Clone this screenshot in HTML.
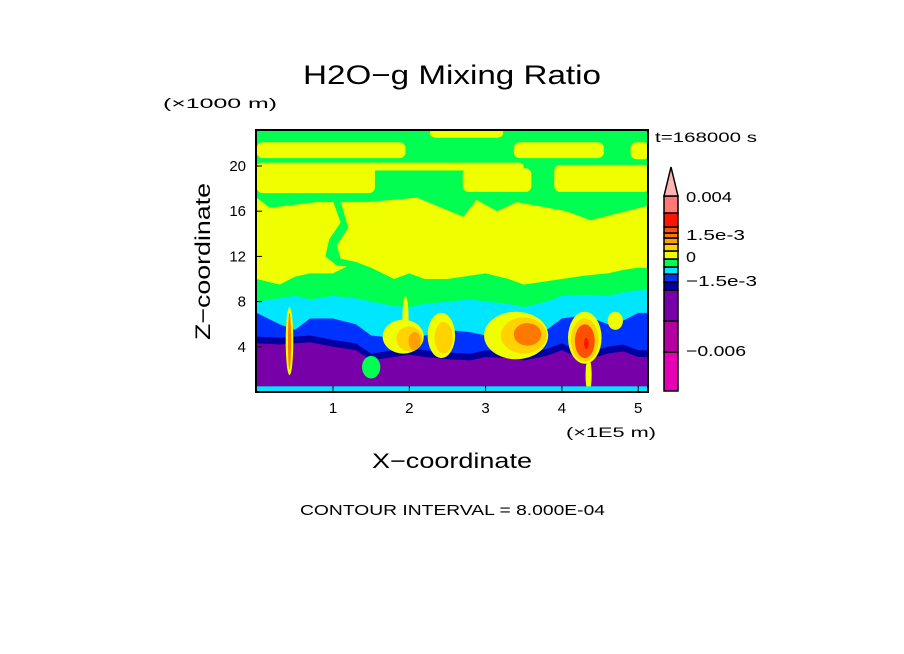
<!DOCTYPE html>
<html><head><meta charset="utf-8"><style>
html,body{margin:0;padding:0;background:#fff;}
svg{display:block;font-family:"Liberation Sans",sans-serif;}
</style></head><body>
<svg id="c" width="904" height="654" viewBox="0 0 904 654">
<defs><clipPath id="clip"><rect x="256" y="130" width="392" height="262"/></clipPath></defs>
<text x="303" y="84" font-size="27" textLength="298" lengthAdjust="spacingAndGlyphs">H2O−g Mixing Ratio</text>
<text x="163" y="108" font-size="14" textLength="114" lengthAdjust="spacingAndGlyphs">(×1000 m)</text>
<text x="655" y="142" font-size="14" textLength="102" lengthAdjust="spacingAndGlyphs">t=168000 s</text>
<g id="plot" clip-path="url(#clip)"></g>
<rect x="256" y="130" width="392" height="262" fill="none" stroke="#000" stroke-width="2"/>
<g id="axes"></g>
<g id="cbar"></g>
<text x="566" y="437" font-size="14" textLength="90" lengthAdjust="spacingAndGlyphs">(×1E5 m)</text>
<text x="372" y="468" font-size="21" textLength="160" lengthAdjust="spacingAndGlyphs">X−coordinate</text>
<text x="0" y="0" font-size="21" textLength="157" lengthAdjust="spacingAndGlyphs" transform="translate(210,340) rotate(-90)">Z−coordinate</text>
<text x="300" y="515" font-size="15" textLength="305" lengthAdjust="spacingAndGlyphs">CONTOUR INTERVAL = 8.000E-04</text>
</svg>
<script>
const NS="http://www.w3.org/2000/svg";
// axis data
const xTicks=[1,2,3,4,5];
const zTicks=[4,8,12,16,20];
// boundary profiles (x in 1e5 m, z in km)
const profX=[-0.1,0.0,0.3,0.5,0.7,1.0,1.3,1.5,1.8,2.0,2.2,2.5,2.8,3.0,3.3,3.5,3.8,4.0,4.3,4.6,4.8,5.0,5.2];
const purpleTop=[4.3,4.3,4.2,4.3,4.4,4.0,3.7,2.8,3.1,3.3,3.1,2.9,2.8,3.1,3.0,2.8,3.2,3.7,2.8,3.4,3.6,3.1,3.1];
const blueTop=[7.0,7.0,6.0,5.5,6.5,6.5,6.0,5.0,4.8,4.5,5.0,5.5,5.3,5.0,4.8,4.5,5.5,6.5,6.8,6.0,6.3,7.0,7.0];
const cyanTop=[8.0,8.0,8.3,8.5,8.2,8.5,8.3,8.0,7.6,7.5,7.8,8.0,8.2,8.0,7.8,7.5,8.0,8.5,8.6,8.5,8.8,9.0,9.0];
const greenTop=[10.0,10.0,9.5,10.2,10.5,10.5,11.5,11.0,10.0,10.5,10.0,10.0,10.3,10.5,10.0,9.5,9.8,10.0,10.3,10.5,10.8,11.0,11.0];
const yelTopX=[-0.1,0.0,0.17,0.79,1.44,2.1,2.71,2.88,3.15,3.41,4.06,4.37,5.2];
const yelTop=[17.2,17.2,16.3,16.8,16.8,17.2,15.5,17.0,16.0,16.8,16.0,15.2,16.6];
// green tongue polygon (x,z)
const tongueX=[0.75,1.0,1.1,0.95,0.9,1.05,1.35,1.3,1.1,1.05,1.2,1.1,0.95];
const tongueZ=[16.9,16.9,15.0,13.5,12.0,11.2,11.0,11.5,11.8,13.0,14.5,16.9,16.9];
// upper yellow bands [x0,x1,z0,z1]
const bandX0=[0.0,2.7,3.9,0.0,3.37,4.9,2.27,0.0];
const bandX1=[1.55,3.6,5.15,1.95,4.55,5.15,3.23,3.5];
const bandZ0=[17.6,17.7,17.7,20.7,20.7,20.6,22.5,19.6];
const bandZ1=[20.2,19.8,20.1,22.1,22.1,22.1,23.3,20.3];
// blobs [x,z,rx,rz,level]
const blobX=[1.92,2.42,3.4,4.3,4.7,0.43,1.5,1.95,4.35,2.0,2.45,3.5,4.3,2.07,3.55,4.3,0.43,4.32];
const blobZ=[4.9,5.0,5.0,4.8,6.3,4.5,2.2,6.5,1.5,4.7,4.8,5.0,4.6,4.5,5.1,4.5,4.5,4.3];
const blobRX=[0.27,0.18,0.42,0.22,0.1,0.05,0.12,0.04,0.04,0.17,0.12,0.3,0.18,0.08,0.18,0.13,0.02,0.03];
const blobRZ=[1.5,2.0,2.1,2.3,0.8,3.0,1.0,2.0,1.5,1.1,1.4,1.6,1.9,0.8,1.0,1.5,2.5,0.5];
const blobLev=[7,7,7,7,7,7,6,7,7,8,8,8,8,9,10,11,10,12];
// color levels (bottom->top)
const levColors=["#e600b4","#b400a0","#7800a8","#0000a0","#0032ff","#00e6ff","#00ff50","#f0ff00","#ffd200","#ffa000","#ff7800","#ff5000","#ff1400","#ff7878","#ffb4b4"];
const cbarY0=[352,321,290,282,274,267,259,251,244,238,233,227,213,196];
const cbarY1=[391,352,321,290,282,274,267,259,251,244,238,233,227,213];
const cbarLabels=["0.004","1.5e-3","0","−1.5e-3","−0.006"];
const cbarLabelY=[197,235,257,281,351];
const cbarLabelW=[46,59,10,71,60];

const X=x=>256.7+76.3*x, Z=z=>392-11.3*z;
const plot=document.getElementById('plot');
function mk(tag,attrs,parent){const e=document.createElementNS(NS,tag);for(const k in attrs)e.setAttribute(k,attrs[k]);parent.appendChild(e);return e;}
let r=mk('rect',{x:256,y:130,width:392,height:262,fill:levColors[7]},plot);


let pts=yelTopX.map((x,i)=>X(x)+','+Z(yelTop[i])).join(' ')+` ${X(5.2)},${Z(24)} ${X(-0.1)},${Z(24)}`;
let p=mk('polygon',{points:pts,fill:levColors[6]},plot);


bandX0.forEach((x0,i)=>{
 const b=mk('rect',{x:X(x0),y:Z(bandZ1[i]),width:X(bandX1[i])-X(x0),height:Z(bandZ0[i])-Z(bandZ1[i]),rx:6,fill:levColors[7]},plot);
 
 
});
let tg=mk('polygon',{points:tongueX.map((x,i)=>X(x)+','+Z(tongueZ[i])).join(' '),fill:levColors[6]},plot);


function layer(arr,lev,name,off){
 const pts=profX.map((x,i)=>X(x)+','+Z(arr[i]+(off||0))).join(' ')+` ${X(5.2)},${Z(-1)} ${X(-0.1)},${Z(-1)}`;
 const e=mk('polygon',{points:pts,fill:levColors[lev]},plot);
 
 
}
layer(greenTop,6,'green-layer');
layer(cyanTop,5,'cyan-layer');
layer(blueTop,4,'blue-layer');
layer(purpleTop,3,'navy-layer',0.6);
layer(purpleTop,2,'purple-layer');
blobX.forEach((x,i)=>{
 const e=mk('ellipse',{cx:X(x),cy:Z(blobZ[i]),rx:blobRX[i]*76.3,ry:blobRZ[i]*11.3,fill:levColors[blobLev[i]]},plot);
 
 
});
let s=mk('rect',{x:256,y:Z(0.5),width:392,height:8,fill:levColors[5]},plot);


const ax=document.getElementById('axes');
xTicks.forEach(v=>{
 const t=mk('text',{x:X(v),y:413,'font-size':15,'text-anchor':'middle'},ax);t.textContent=v;
 
 
 const l=mk('line',{x1:X(v),x2:X(v),y1:392,y2:386,stroke:'#000'},ax);
 
 
});
zTicks.forEach(v=>{
 const t=mk('text',{x:246,y:Z(v)+5,'font-size':15,'text-anchor':'end'},ax);t.textContent=v;
 
 
 const l=mk('line',{x1:256,x2:262,y1:Z(v),y2:Z(v),stroke:'#000'},ax);
 
 
});
const cb=document.getElementById('cbar');
cbarY0.forEach((y0,i)=>{
 const e=mk('rect',{x:664,y:y0,width:14,height:cbarY1[i]-y0,fill:levColors[i],stroke:'#000','stroke-width':1.5},cb);
 
 
});
let tri=mk('polygon',{points:'664,196 678,196 671,167',fill:levColors[14],stroke:'#000','stroke-width':1.5},cb);


cbarLabels.forEach((t,i)=>{
 const e=mk('text',{x:686,y:cbarLabelY[i]+5,'font-size':15,textLength:cbarLabelW[i],lengthAdjust:'spacingAndGlyphs'},cb);e.textContent=t;
 
 
});
</script>
</body></html>
